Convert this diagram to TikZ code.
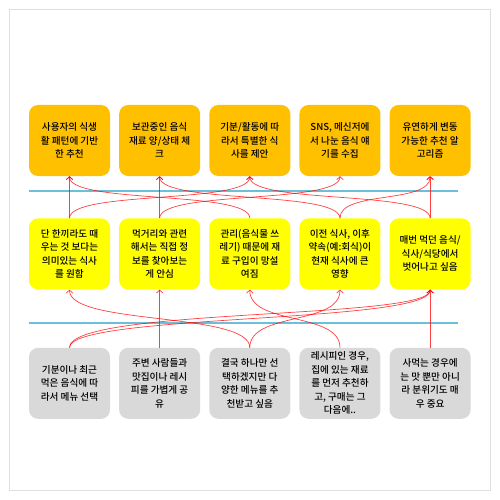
\documentclass[tikz,border=0pt]{standalone}
\usepackage{fontspec}
\setmainfont{Noto Sans CJK KR}[UprightFont=* Medium]
\usepackage{tikz}
\usetikzlibrary{
  positioning,
  arrows.meta
}
\definecolor{needfill}{HTML}{FFC000}
\definecolor{insightfill}{HTML}{FFFF00}
\definecolor{quotefill}{HTML}{D9D9D9}
\definecolor{sepblue}{HTML}{6CBFD9}
\tikzset{
  >={Straight Barb[length=3pt,width=6.5pt]},
  node distance=8.75pt,
  box/.style={rounded corners=9pt, minimum width=81pt, minimum height=71pt,
    inner sep=0pt, align=center, font=\fontsize{9.6}{13.5}\selectfont},
  need/.style={box, fill=needfill},
  insight/.style={box, fill=insightfill},
  quote/.style={box, fill=quotefill},
  link/.style={->, red, opacity=0.75, line width=0.7pt},
  sep/.style={sepblue, line width=1.1pt}
}

\begin{document}
\begin{tikzpicture}[x=1pt, y=-1pt]
    \useasboundingbox (0,0) rectangle (500,500);
    \draw[gray!25] (9.5,9.5) rectangle (490.5,490.5);

    \node[need] (t1) at (69.5,140.5) {사용자의 식생\\활 패턴에 기반\\한 추천};
    \node[need, right=of t1] (t2) {보관중인 음식\\재료 양/상태 체\\크};
    \node[need, right=of t2] (t3) {기분/활동에 따\\라서 특별한 식\\사를 제안};
    \node[need, right=of t3] (t4) {SNS, 메신저에\\서 나눈 음식 얘\\기를 수집};
    \node[need, right=of t4] (t5) {유연하게 변동\\가능한 추천 알\\고리즘};

    \node[insight, below=42pt of t1] (m1) {단 한끼라도 때\\우는 것 보다는\\의미있는 식사\\를 원함};
    \node[insight, right=of m1] (m2) {먹거리와 관련\\해서는 직접 정\\보를 찾아보는\\게 안심};
    \node[insight, right=of m2] (m3) {관리(음식물 쓰\\레기) 때문에 재\\료 구입이 망설\\여짐};
    \node[insight, right=of m3] (m4) {이전 식사, 이후\\약속(예:회식)이\\현재 식사에 큰\\영향};
    \node[insight, right=of m4] (m5) {매번 먹던 음식/\\식사/식당에서\\벗어나고 싶음};

    \node[quote, below=58pt of m1] (b1) {기분이나 최근\\먹은 음식에 따\\라서 메뉴 선택};
    \node[quote, right=of b1] (b2) {주변 사람들과\\맛집이나 레시\\피를 가볍게 공\\유};
    \node[quote, right=of b2] (b3) {결국 하나만 선\\택하겠지만 다\\양한 메뉴를 추\\천받고 싶음};
    \node[quote, right=of b3] (b4) {레시피인 경우,\\집에 있는 재료\\를 먼저 추천하\\고, 구매는 그\\다음에..};
    \node[quote, right=of b4] (b5) {사먹는 경우에\\는 맛 뿐만 아니\\라 분위기도 매\\우 중요};

    % separators
    \coordinate (sa) at (29,191);
    \coordinate (sb) at (458,191);
    \coordinate (sc) at (29,323);
    \coordinate (sd) at (458,323);
    \draw[sep] (sa) -- (sb);
    \draw[sep] (sc) -- (sd);

    % insights -> needs
    \draw[link] (m1) -- (t1);
    \draw[link] (m2) -- (t2);
    \draw[link] (m5) -- (t5);
    \draw[link] (m1.north) .. controls +(0,-28) and +(0,28) .. (t3.south);
    \draw[link] (m2.north) .. controls +(0,-28) and +(0,28) .. (t4.south);
    \draw[link] (m3.north) .. controls +(0,-28) and +(0,28) .. (t1.south);
    \draw[link] (m4.north) .. controls +(0,-28) and +(0,28) .. (t2.south);
    \draw[link] (m4.north) .. controls +(0,-28) and +(0,28) .. (t5.south);
    \draw[link] (m5.north) .. controls +(0,-28) and +(0,28) .. (t3.south);

    % quotes -> insights
    \draw[link] (b2) -- (m2);
    \draw[link] (b5) -- (m5);
    \draw[link] (b1.north) .. controls +(0,-34) and +(0,34) .. (m5.south);
    \draw[link] (b1.north) .. controls +(0,-40) and +(0,30) .. (m5.south);
    \draw[link] (b3.north) .. controls +(0,-36) and +(0,36) .. (m1.south);
    \draw[link] (b3.north) .. controls +(0,-36) and +(0,36) .. (m4.south);
    \draw[link] (b4.north) .. controls +(0,-36) and +(0,36) .. (m3.south);
\end{tikzpicture}
\end{document}
